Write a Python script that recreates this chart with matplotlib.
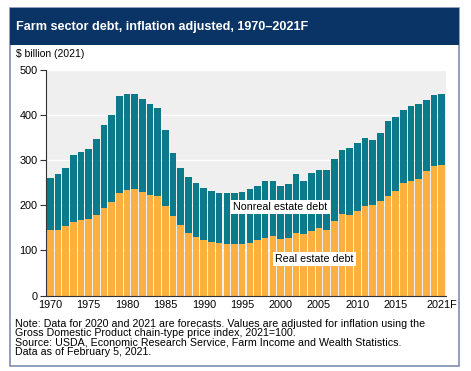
import matplotlib
matplotlib.use("Agg")
import matplotlib.pyplot as plt
from matplotlib.patches import Rectangle

plt.rcParams["font.family"] = ["Liberation Sans", "DejaVu Sans"]

# Данные: долг фермерского сектора, млрд $ (2021)
years = list(range(1970, 2022))
real_estate = [146, 146, 153, 162, 168, 170, 178, 194, 206, 226,
               234, 236, 228, 222, 221, 199, 175, 155, 139, 130,
               122, 119, 117, 114, 114, 114, 117, 122, 128, 132,
               125, 128, 139, 136, 142, 150, 146, 164, 181, 178,
               186, 198, 201, 209, 220, 232, 248, 253, 258, 275,
               286, 288]
total = [260, 269, 283, 310, 317, 325, 347, 377, 400, 442,
         446, 446, 434, 423, 415, 367, 316, 282, 262, 248,
         238, 232, 226, 226, 227, 229, 236, 243, 254, 254,
         243, 247, 268, 254, 270, 277, 277, 301, 322, 327,
         337, 349, 345, 359, 387, 395, 411, 420, 423, 432,
         443, 445]
nonreal_estate = [t - r for t, r in zip(total, real_estate)]

x_ticks = [1970, 1975, 1980, 1985, 1990, 1995, 2000, 2005, 2010, 2015, 2021]
x_labels = ["1970", "1975", "1980", "1985", "1990", "1995", "2000", "2005",
            "2010", "2015", "2021F"]
y_ticks = [0, 100, 200, 300, 400, 500]

navy = "#0b3466"
teal = "#0b7a8b"
orange = "#fbb040"

W, H = 471, 371
fig = plt.figure(figsize=(W / 100, H / 100), dpi=100)

# рамка и шапка
fig.patches.append(Rectangle((10 / W, 1 - 366 / H), 449 / W, 358 / H,
                             transform=fig.transFigure, facecolor="white",
                             edgecolor="#7f8db0", linewidth=1.2, zorder=0))
fig.patches.append(Rectangle((10 / W, 1 - 45 / H), 449 / W, 37 / H,
                             transform=fig.transFigure, facecolor=navy,
                             edgecolor="none", zorder=1))
fig.text(16 / W, 1 - 27 / H, "Farm sector debt, inflation adjusted, 1970\u20132021F",
         color="white", fontsize=9.1, fontweight="bold", va="center", ha="left")
fig.text(16 / W, 1 - 54 / H, "$ billion (2021)", fontsize=7.5, va="center", ha="left")

ax = fig.add_axes([46 / W, 1 - 295.5 / H, 400 / W, 226 / H])
ax.set_zorder(3)
ax.set_facecolor("#efefef")
ax.bar(years, real_estate, width=0.86, color=orange, zorder=2)
ax.bar(years, nonreal_estate, bottom=real_estate, width=0.86, color=teal, zorder=2)

ax.set_xlim(1969.45, 2021.55)
ax.set_ylim(0, 500)
ax.set_yticks(y_ticks)
ax.set_xticks(x_ticks)
ax.set_xticklabels(x_labels)
ax.grid(axis="y", color="white", linewidth=1, zorder=1)
ax.set_axisbelow(True)
for s in ["top", "right"]:
    ax.spines[s].set_visible(False)
ax.spines["left"].set_color("#333333")
ax.spines["bottom"].set_color("#333333")
ax.tick_params(axis="y", length=4, width=0.8, labelsize=7.8, pad=2, color="#333333")
ax.tick_params(axis="x", length=0, labelsize=7.8, pad=3)

ax.text(2000, 196, "Nonreal estate debt", fontsize=7.7, ha="center", va="center",
        bbox=dict(facecolor="white", edgecolor="none", pad=1.5), zorder=3)
ax.text(2004.4, 80, "Real estate debt", fontsize=7.7, ha="center", va="center",
        bbox=dict(facecolor="white", edgecolor="none", pad=1.5), zorder=3)

notes = [
    "Note: Data for 2020 and 2021 are forecasts. Values are adjusted for inflation using the",
    "Gross Domestic Product chain-type price index, 2021=100.",
    "Source: USDA, Economic Research Service, Farm Income and Wealth Statistics.",
    "Data as of February 5, 2021.",
]
for i, line in enumerate(notes):
    fig.text(15 / W, 1 - (324 + 9.3 * i) / H, line, fontsize=7.7, va="center", ha="left")

fig.savefig("out.png", dpi=100)
